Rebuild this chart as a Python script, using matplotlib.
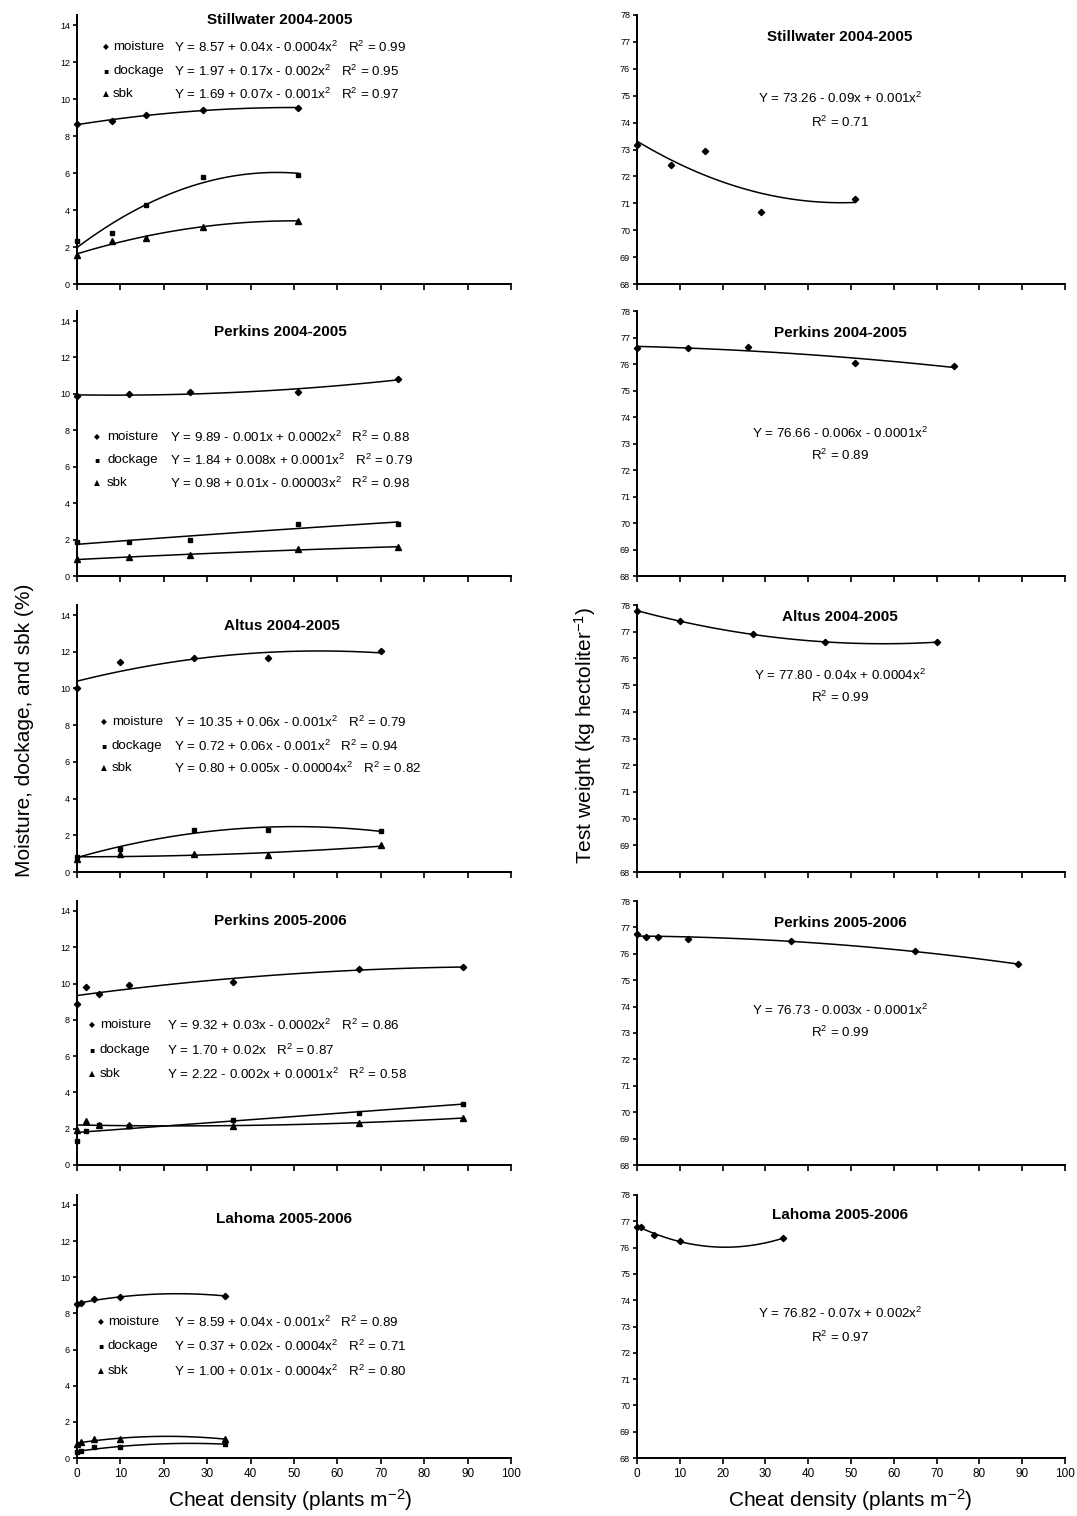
import numpy as np
import matplotlib
matplotlib.use('Agg')
import matplotlib.pyplot as plt

plt.rcParams['font.family'] = ['Liberation Sans Narrow', 'Liberation Sans', 'DejaVu Sans']
plt.rcParams['mathtext.fontset'] = 'custom'
plt.rcParams['mathtext.rm'] = 'Liberation Sans'
plt.rcParams['mathtext.it'] = 'Liberation Sans'

# ---------------- data ----------------
sites = ["Stillwater 2004-2005", "Perkins 2004-2005", "Altus 2004-2005",
         "Perkins 2005-2006", "Lahoma 2005-2006"]

stw_x = [0, 8, 16, 29, 51]
stw_moist = [8.65, 8.83, 9.13, 9.40, 9.54]
stw_dock = [2.30, 2.75, 4.25, 5.80, 5.90]
stw_sbk = [1.57, 2.30, 2.50, 3.10, 3.42]
stw_tw = [73.15, 72.42, 72.93, 70.69, 71.17]

pk1_x = [0, 12, 26, 51, 74]
pk1_moist = [9.88, 9.97, 10.12, 10.12, 10.83]
pk1_dock = [1.85, 1.88, 2.00, 2.87, 2.87]
pk1_sbk = [0.92, 1.04, 1.15, 1.48, 1.59]
pk1_tw = [76.61, 76.61, 76.65, 76.05, 75.93]

alt_x = [0, 10, 27, 44, 70]
alt_moist = [10.05, 11.44, 11.67, 11.64, 12.05]
alt_dock = [0.82, 1.27, 2.31, 2.31, 2.24]
alt_sbk = [0.73, 0.96, 1.00, 0.91, 1.45]
alt_tw = [77.78, 77.41, 76.90, 76.61, 76.61]

pk2_x = [0, 2, 5, 12, 36, 65, 89]
pk2_moist = [8.90, 9.83, 9.42, 9.92, 10.10, 10.81, 10.90]
pk2_dock = [1.30, 1.89, 2.20, 2.13, 2.50, 2.87, 3.34]
pk2_sbk = [1.95, 2.41, 2.22, 2.22, 2.13, 2.32, 2.60]
pk2_tw = [76.75, 76.65, 76.65, 76.56, 76.50, 76.10, 75.60]

lah_x = [0, 1, 4, 10, 34]
lah_moist = [8.51, 8.60, 8.79, 8.88, 8.97]
lah_dock = [0.31, 0.40, 0.59, 0.59, 0.77]
lah_sbk = [0.77, 0.87, 1.05, 1.05, 1.05]
lah_tw = [76.80, 76.80, 76.48, 76.25, 76.35]

series_labels = ["moisture", "dockage", "sbk"]

left_eqs = [
    ["Y = 8.57 + 0.04x - 0.0004x$^2$   R$^2$ = 0.99",
     "Y = 1.97 + 0.17x - 0.002x$^2$   R$^2$ = 0.95",
     "Y = 1.69 + 0.07x - 0.001x$^2$   R$^2$ = 0.97"],
    ["Y = 9.89 - 0.001x + 0.0002x$^2$   R$^2$ = 0.88",
     "Y = 1.84 + 0.008x + 0.0001x$^2$   R$^2$ = 0.79",
     "Y = 0.98 + 0.01x - 0.00003x$^2$   R$^2$ = 0.98"],
    ["Y = 10.35 + 0.06x - 0.001x$^2$   R$^2$ = 0.79",
     "Y = 0.72 + 0.06x - 0.001x$^2$   R$^2$ = 0.94",
     "Y = 0.80 + 0.005x - 0.00004x$^2$   R$^2$ = 0.82"],
    ["Y = 9.32 + 0.03x - 0.0002x$^2$   R$^2$ = 0.86",
     "Y = 1.70 + 0.02x   R$^2$ = 0.87",
     "Y = 2.22 - 0.002x + 0.0001x$^2$   R$^2$ = 0.58"],
    ["Y = 8.59 + 0.04x - 0.001x$^2$   R$^2$ = 0.89",
     "Y = 0.37 + 0.02x - 0.0004x$^2$   R$^2$ = 0.71",
     "Y = 1.00 + 0.01x - 0.0004x$^2$   R$^2$ = 0.80"],
]
right_eqs = [
    ("Y = 73.26 - 0.09x + 0.001x$^2$", "R$^2$ = 0.71"),
    ("Y = 76.66 - 0.006x - 0.0001x$^2$", "R$^2$ = 0.89"),
    ("Y = 77.80 - 0.04x + 0.0004x$^2$", "R$^2$ = 0.99"),
    ("Y = 76.73 - 0.003x - 0.0001x$^2$", "R$^2$ = 0.99"),
    ("Y = 76.82 - 0.07x + 0.002x$^2$", "R$^2$ = 0.97"),
]

xs_all = [stw_x, pk1_x, alt_x, pk2_x, lah_x]
left_all = [(stw_moist, stw_dock, stw_sbk), (pk1_moist, pk1_dock, pk1_sbk),
            (alt_moist, alt_dock, alt_sbk), (pk2_moist, pk2_dock, pk2_sbk),
            (lah_moist, lah_dock, lah_sbk)]
right_all = [stw_tw, pk1_tw, alt_tw, pk2_tw, lah_tw]
left_deg = [(2, 2, 2), (2, 2, 2), (2, 2, 2), (2, 1, 2), (2, 2, 2)]

x_ticks = list(range(0, 101, 10))
left_yticks = list(range(0, 15, 2))
right_yticks = list(range(68, 79))

# ---------------- layout ----------------
W, H = 1077, 1516
fig = plt.figure(figsize=(W / 100, H / 100), dpi=100)


def fx(px):
    return px / W


def fy(py):
    return 1 - py / H


rows_px = [(15, 284), (311, 576), (605, 872), (901, 1165), (1195, 1458)]
left_x = (77, 511)
right_x = (637, 1065)

markers = ['D', 's', '^']
msizes = [3.2, 3.2, 3.8]
leg_glyphs = ['\u25c6', '\u25aa', '\u25b2']

left_title_px = [(280, 20), (280, 332), (282, 626), (280, 921), (284, 1219)]
right_title_px = [(840, 37), (840, 333), (840, 617), (840, 923), (840, 1215)]
left_leg_px = [((106, 113, 174), (47, 71, 94)),
               ((97, 107, 170), (437, 460, 483)),
               ((104, 112, 174), (722, 746, 768)),
               ((92, 100, 167), (1025, 1050, 1074)),
               ((101, 108, 174), (1322, 1346, 1371))]
right_eq_px = [(840, 98, 122), (840, 433, 455), (840, 675, 697),
               (840, 1010, 1032), (840, 1313, 1337)]


def style_axes(ax, bottom_labels):
    for s in ['top', 'right']:
        ax.spines[s].set_visible(False)
    for s in ['left', 'bottom']:
        ax.spines[s].set_linewidth(1.4)
        ax.spines[s].set_color('black')
    ax.set_xlim(0, 100)
    ax.set_xticks(x_ticks)
    ax.tick_params(axis='x', direction='out', length=4, width=1.2,
                   labelsize=8.5, pad=3, labelbottom=bottom_labels)
    ax.tick_params(axis='y', direction='out', length=3, width=1.2,
                   labelsize=6.5, pad=2)
    ax.patch.set_alpha(0)


for i in range(5):
    top, bot = rows_px[i]
    x = np.array(xs_all[i], dtype=float)
    xx = np.linspace(x.min(), x.max(), 100)

    # left panel
    axl = fig.add_axes([fx(left_x[0]), fy(bot), fx(left_x[1] - left_x[0]),
                        (bot - top) / H])
    style_axes(axl, i == 4)
    axl.set_ylim(0, 14.55)
    axl.set_yticks(left_yticks)
    for j, y in enumerate(left_all[i]):
        y = np.array(y, dtype=float)
        coef = np.polyfit(x, y, left_deg[i][j])
        axl.plot(xx, np.polyval(coef, xx), color='black', lw=1.1)
        axl.plot(x, y, linestyle='none', marker=markers[j], ms=msizes[j],
                 color='black', clip_on=False)
    fig.text(fx(left_title_px[i][0]), fy(left_title_px[i][1]), sites[i],
             ha='center', va='center', fontsize=11, fontweight='bold')
    (mx, lx, ex), ys = left_leg_px[i]
    for j in range(3):
        fig.text(fx(mx), fy(ys[j]), leg_glyphs[j], family='DejaVu Sans',
                 ha='center', va='center', fontsize=5.5)
        fig.text(fx(lx), fy(ys[j]), series_labels[j], ha='left', va='center',
                 fontsize=9.6)
        fig.text(fx(ex), fy(ys[j]), left_eqs[i][j], ha='left', va='center',
                 fontsize=9.6)

    # right panel
    axr = fig.add_axes([fx(right_x[0]), fy(bot), fx(right_x[1] - right_x[0]),
                        (bot - top) / H])
    style_axes(axr, i == 4)
    axr.set_ylim(68, 78)
    axr.set_yticks(right_yticks)
    y = np.array(right_all[i], dtype=float)
    coef = np.polyfit(x, y, 2)
    axr.plot(xx, np.polyval(coef, xx), color='black', lw=1.1)
    axr.plot(x, y, linestyle='none', marker='D', ms=3.2, color='black',
             clip_on=False)
    fig.text(fx(right_title_px[i][0]), fy(right_title_px[i][1]), sites[i],
             ha='center', va='center', fontsize=11, fontweight='bold')
    ex, y1, y2 = right_eq_px[i]
    fig.text(fx(ex), fy(y1), right_eqs[i][0], ha='center', va='center',
             fontsize=9.6)
    fig.text(fx(ex), fy(y2), right_eqs[i][1], ha='center', va='center',
             fontsize=9.6)

# axis labels
lab_font = ['Liberation Sans', 'DejaVu Sans']
fig.text(fx(25), fy(730), "Moisture, dockage, and sbk (%)", rotation=90,
         ha='center', va='center', fontsize=15, family=lab_font)
fig.text(fx(585), fy(735), "Test weight (kg hectoliter$^{-1}$)", rotation=90,
         ha='center', va='center', fontsize=15, family=lab_font)
fig.text(fx(290), fy(1500), "Cheat density (plants m$^{-2}$)",
         ha='center', va='center', fontsize=15, family=lab_font)
fig.text(fx(850), fy(1500), "Cheat density (plants m$^{-2}$)",
         ha='center', va='center', fontsize=15, family=lab_font)

fig.savefig('out.png', dpi=100)
